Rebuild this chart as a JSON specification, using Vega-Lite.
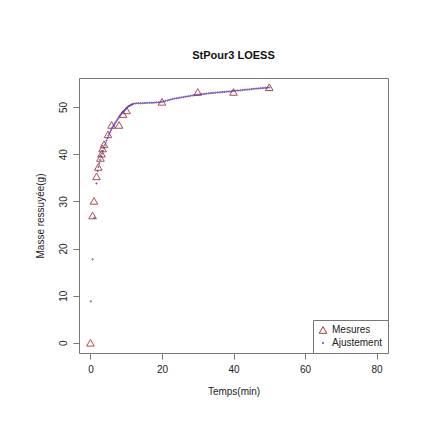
{
  "$schema": "https://vega.github.io/schema/vega-lite/v6.json",
  "autosize": "none",
  "width": 309,
  "height": 275,
  "padding": {"left": 79, "top": 78, "right": 37, "bottom": 70},
  "background": "white",
  "title": {
    "text": "StPour3 LOESS",
    "fontSize": 11,
    "fontWeight": "bold",
    "font": "Liberation Sans",
    "color": "#111",
    "anchor": "middle",
    "offset": 17
  },
  "data": {
    "values": [
      {"t": 0, "m": 0, "serie": "Mesures"},
      {"t": 0.6, "m": 27, "serie": "Mesures"},
      {"t": 1.0, "m": 30.1, "serie": "Mesures"},
      {"t": 1.7, "m": 35.3, "serie": "Mesures"},
      {"t": 2.2, "m": 37.3, "serie": "Mesures"},
      {"t": 2.8, "m": 39.2, "serie": "Mesures"},
      {"t": 3.1, "m": 40.1, "serie": "Mesures"},
      {"t": 3.4, "m": 41.2, "serie": "Mesures"},
      {"t": 3.8, "m": 42.1, "serie": "Mesures"},
      {"t": 4.9, "m": 44.2, "serie": "Mesures"},
      {"t": 5.9, "m": 46.2, "serie": "Mesures"},
      {"t": 8.0, "m": 46.2, "serie": "Mesures"},
      {"t": 9.1, "m": 48.5, "serie": "Mesures"},
      {"t": 10.1, "m": 49.3, "serie": "Mesures"},
      {"t": 20, "m": 51.1, "serie": "Mesures"},
      {"t": 30, "m": 53.2, "serie": "Mesures"},
      {"t": 40, "m": 53.2, "serie": "Mesures"},
      {"t": 50, "m": 54.2, "serie": "Mesures"},
      {"t": 0.1, "m": 8.8, "serie": "Ajustement"},
      {"t": 0.6, "m": 17.7, "serie": "Ajustement"},
      {"t": 1.1, "m": 26.5, "serie": "Ajustement"},
      {"t": 1.7, "m": 33.8, "serie": "Ajustement"},
      {"t": 2.0, "m": 36.4, "serie": "Ajustement"},
      {"t": 2.25, "m": 37.3, "serie": "Ajustement"},
      {"t": 2.5, "m": 38.1, "serie": "Ajustement"},
      {"t": 2.75, "m": 38.8, "serie": "Ajustement"},
      {"t": 3.0, "m": 39.5, "serie": "Ajustement"},
      {"t": 3.25, "m": 40.1, "serie": "Ajustement"},
      {"t": 3.5, "m": 40.7, "serie": "Ajustement"},
      {"t": 3.75, "m": 41.3, "serie": "Ajustement"},
      {"t": 4.0, "m": 41.9, "serie": "Ajustement"},
      {"t": 4.25, "m": 42.4, "serie": "Ajustement"},
      {"t": 4.5, "m": 42.9, "serie": "Ajustement"},
      {"t": 4.75, "m": 43.4, "serie": "Ajustement"},
      {"t": 5.0, "m": 43.9, "serie": "Ajustement"},
      {"t": 5.25, "m": 44.3, "serie": "Ajustement"},
      {"t": 5.5, "m": 44.7, "serie": "Ajustement"},
      {"t": 5.75, "m": 45.1, "serie": "Ajustement"},
      {"t": 6.0, "m": 45.5, "serie": "Ajustement"},
      {"t": 6.25, "m": 45.8, "serie": "Ajustement"},
      {"t": 6.5, "m": 46.1, "serie": "Ajustement"},
      {"t": 6.75, "m": 46.4, "serie": "Ajustement"},
      {"t": 7.0, "m": 46.7, "serie": "Ajustement"},
      {"t": 7.25, "m": 47.0, "serie": "Ajustement"},
      {"t": 7.5, "m": 47.3, "serie": "Ajustement"},
      {"t": 7.75, "m": 47.6, "serie": "Ajustement"},
      {"t": 8.0, "m": 47.9, "serie": "Ajustement"},
      {"t": 8.25, "m": 48.2, "serie": "Ajustement"},
      {"t": 8.5, "m": 48.4, "serie": "Ajustement"},
      {"t": 8.75, "m": 48.7, "serie": "Ajustement"},
      {"t": 9.0, "m": 48.9, "serie": "Ajustement"},
      {"t": 9.25, "m": 49.1, "serie": "Ajustement"},
      {"t": 9.5, "m": 49.3, "serie": "Ajustement"},
      {"t": 9.75, "m": 49.5, "serie": "Ajustement"},
      {"t": 10.0, "m": 49.7, "serie": "Ajustement"},
      {"t": 10.25, "m": 49.9, "serie": "Ajustement"},
      {"t": 10.5, "m": 50.1, "serie": "Ajustement"},
      {"t": 10.75, "m": 50.2, "serie": "Ajustement"},
      {"t": 11.0, "m": 50.3, "serie": "Ajustement"},
      {"t": 11.25, "m": 50.4, "serie": "Ajustement"},
      {"t": 11.5, "m": 50.5, "serie": "Ajustement"},
      {"t": 11.75, "m": 50.6, "serie": "Ajustement"},
      {"t": 12.0, "m": 50.7, "serie": "Ajustement"},
      {"t": 12.5, "m": 50.75, "serie": "Ajustement"},
      {"t": 13.0, "m": 50.8, "serie": "Ajustement"},
      {"t": 13.5, "m": 50.8, "serie": "Ajustement"},
      {"t": 14.0, "m": 50.8, "serie": "Ajustement"},
      {"t": 14.5, "m": 50.8, "serie": "Ajustement"},
      {"t": 15.0, "m": 50.85, "serie": "Ajustement"},
      {"t": 15.5, "m": 50.85, "serie": "Ajustement"},
      {"t": 16.0, "m": 50.9, "serie": "Ajustement"},
      {"t": 16.5, "m": 50.9, "serie": "Ajustement"},
      {"t": 17.0, "m": 50.9, "serie": "Ajustement"},
      {"t": 17.5, "m": 50.9, "serie": "Ajustement"},
      {"t": 18.0, "m": 50.95, "serie": "Ajustement"},
      {"t": 18.5, "m": 51.0, "serie": "Ajustement"},
      {"t": 19.0, "m": 51.0, "serie": "Ajustement"},
      {"t": 19.5, "m": 51.05, "serie": "Ajustement"},
      {"t": 20.0, "m": 51.1, "serie": "Ajustement"},
      {"t": 20.5, "m": 51.2, "serie": "Ajustement"},
      {"t": 21.0, "m": 51.3, "serie": "Ajustement"},
      {"t": 21.5, "m": 51.4, "serie": "Ajustement"},
      {"t": 22.0, "m": 51.5, "serie": "Ajustement"},
      {"t": 22.5, "m": 51.6, "serie": "Ajustement"},
      {"t": 23.0, "m": 51.7, "serie": "Ajustement"},
      {"t": 23.5, "m": 51.8, "serie": "Ajustement"},
      {"t": 24.0, "m": 51.85, "serie": "Ajustement"},
      {"t": 24.5, "m": 51.9, "serie": "Ajustement"},
      {"t": 25.0, "m": 52.0, "serie": "Ajustement"},
      {"t": 25.5, "m": 52.05, "serie": "Ajustement"},
      {"t": 26.0, "m": 52.1, "serie": "Ajustement"},
      {"t": 26.5, "m": 52.2, "serie": "Ajustement"},
      {"t": 27.0, "m": 52.25, "serie": "Ajustement"},
      {"t": 27.5, "m": 52.3, "serie": "Ajustement"},
      {"t": 28.0, "m": 52.4, "serie": "Ajustement"},
      {"t": 28.5, "m": 52.45, "serie": "Ajustement"},
      {"t": 29.0, "m": 52.5, "serie": "Ajustement"},
      {"t": 29.5, "m": 52.55, "serie": "Ajustement"},
      {"t": 30.0, "m": 52.6, "serie": "Ajustement"},
      {"t": 30.5, "m": 52.65, "serie": "Ajustement"},
      {"t": 31.0, "m": 52.7, "serie": "Ajustement"},
      {"t": 31.5, "m": 52.75, "serie": "Ajustement"},
      {"t": 32.0, "m": 52.8, "serie": "Ajustement"},
      {"t": 32.5, "m": 52.85, "serie": "Ajustement"},
      {"t": 33.0, "m": 52.9, "serie": "Ajustement"},
      {"t": 33.5, "m": 52.95, "serie": "Ajustement"},
      {"t": 34.0, "m": 53.0, "serie": "Ajustement"},
      {"t": 34.5, "m": 53.0, "serie": "Ajustement"},
      {"t": 35.0, "m": 53.05, "serie": "Ajustement"},
      {"t": 35.5, "m": 53.1, "serie": "Ajustement"},
      {"t": 36.0, "m": 53.1, "serie": "Ajustement"},
      {"t": 36.5, "m": 53.15, "serie": "Ajustement"},
      {"t": 37.0, "m": 53.2, "serie": "Ajustement"},
      {"t": 37.5, "m": 53.2, "serie": "Ajustement"},
      {"t": 38.0, "m": 53.25, "serie": "Ajustement"},
      {"t": 38.5, "m": 53.3, "serie": "Ajustement"},
      {"t": 39.0, "m": 53.3, "serie": "Ajustement"},
      {"t": 39.5, "m": 53.35, "serie": "Ajustement"},
      {"t": 40.0, "m": 53.4, "serie": "Ajustement"},
      {"t": 40.5, "m": 53.45, "serie": "Ajustement"},
      {"t": 41.0, "m": 53.5, "serie": "Ajustement"},
      {"t": 41.5, "m": 53.5, "serie": "Ajustement"},
      {"t": 42.0, "m": 53.55, "serie": "Ajustement"},
      {"t": 42.5, "m": 53.6, "serie": "Ajustement"},
      {"t": 43.0, "m": 53.65, "serie": "Ajustement"},
      {"t": 43.5, "m": 53.7, "serie": "Ajustement"},
      {"t": 44.0, "m": 53.7, "serie": "Ajustement"},
      {"t": 44.5, "m": 53.75, "serie": "Ajustement"},
      {"t": 45.0, "m": 53.8, "serie": "Ajustement"},
      {"t": 45.5, "m": 53.85, "serie": "Ajustement"},
      {"t": 46.0, "m": 53.9, "serie": "Ajustement"},
      {"t": 46.5, "m": 53.9, "serie": "Ajustement"},
      {"t": 47.0, "m": 53.95, "serie": "Ajustement"},
      {"t": 47.5, "m": 54.0, "serie": "Ajustement"},
      {"t": 48.0, "m": 54.0, "serie": "Ajustement"},
      {"t": 48.5, "m": 54.05, "serie": "Ajustement"},
      {"t": 49.0, "m": 54.1, "serie": "Ajustement"},
      {"t": 49.5, "m": 54.1, "serie": "Ajustement"},
      {"t": 50.0, "m": 54.15, "serie": "Ajustement"}
    ]
  },
  "mark": {"type": "point", "filled": false, "strokeWidth": 0.9, "opacity": 1},
  "encoding": {
    "x": {
      "field": "t",
      "type": "quantitative",
      "scale": {"domain": [-3.2, 83.2], "nice": false, "zero": false},
      "axis": {"values": [0, 20, 40, 60, 80], "title": "Temps(min)", "labelPadding": 5, "titlePadding": 12}
    },
    "y": {
      "field": "m",
      "type": "quantitative",
      "scale": {"domain": [-2.16, 56.16], "nice": false, "zero": false},
      "axis": {
        "values": [0, 10, 20, 30, 40, 50],
        "title": "Masse ressuyée(g)",
        "labelAngle": -90,
        "labelAlign": "center",
        "labelBaseline": "bottom",
        "labelPadding": 5,
        "titlePadding": 13
      }
    },
    "shape": {
      "field": "serie",
      "type": "nominal",
      "scale": {"domain": ["Mesures", "Ajustement"], "range": ["triangle-up", "circle"]},
      "legend": {"title": null}
    },
    "color": {
      "field": "serie",
      "type": "nominal",
      "scale": {"domain": ["Mesures", "Ajustement"], "range": ["#A03A3A", "#6233A6"]},
      "legend": {"title": null}
    },
    "size": {
      "field": "serie",
      "type": "nominal",
      "scale": {"domain": ["Mesures", "Ajustement"], "range": [58, 1.5]},
      "legend": {"title": null}
    }
  },
  "config": {
    "font": "Liberation Sans",
    "view": {"stroke": "#777", "strokeWidth": 1},
    "axis": {
      "grid": false,
      "domain": false,
      "tickColor": "#777",
      "tickSize": 6,
      "labelColor": "#222",
      "labelFontSize": 10,
      "titleColor": "#222",
      "titleFontSize": 10,
      "titleFontWeight": "normal",
      "labelFont": "Liberation Sans",
      "titleFont": "Liberation Sans"
    },
    "legend": {
      "orient": "bottom-right",
      "offset": 0,
      "strokeColor": "#777",
      "fillColor": "white",
      "padding": 5,
      "labelFontSize": 10,
      "labelColor": "#222",
      "labelFont": "Liberation Sans",
      "rowPadding": 2,
      "symbolStrokeWidth": 1
    }
  }
}
